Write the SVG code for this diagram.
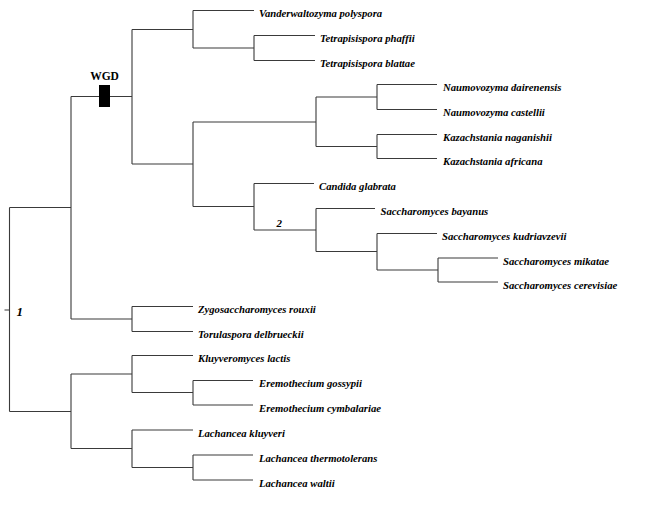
<svg xmlns="http://www.w3.org/2000/svg" width="659" height="509" viewBox="0 0 659 509">
<style>
.e{fill:none;stroke:#3a3a3a;stroke-width:1.1}
.t{font-family:"Liberation Serif","Times New Roman",serif;font-size:10.7px;font-weight:bold;font-style:italic;fill:#000}
.n{font-family:"Liberation Serif","Times New Roman",serif;font-weight:bold;font-style:italic;fill:#000}
</style>
<rect width="659" height="509" fill="#fff"/>
<g id="connectors" class="e">
<!-- root -->
<path d="M4.5 310H9.5M9.5 207.5V411.5"/>
<path d="M9.5 207.5H71M71 96.5V319"/>
<path d="M71 96.5H132M132 29.5V164"/>
<path d="M132 29.5H193M193 10.5V48"/>
<path d="M193 10.5H254"/>
<path d="M193 48H254M254 35.5V60.5M254 35.5H315M254 60.5H315"/>
<path d="M132 164H193M193 122V206.5"/>
<path d="M193 122H316M316 97V146.5"/>
<path d="M316 97H377M377 84.5V109.5M377 84.5H437M377 109.5H437"/>
<path d="M316 146.5H377M377 134.5V158.5M377 134.5H437M377 158.5H437"/>
<path d="M193 206.5H254M254 183.5V230M254 183.5H314"/>
<path d="M254 230H316M316 208.5V251.5M316 208.5H375"/>
<path d="M316 251.5H377M377 233.5V270M377 233.5H437"/>
<path d="M377 270H438M438 258V282M438 258H498M438 282H498"/>
<path d="M71 319H132M132 306.5V331.5M132 306.5H193M132 331.5H193"/>
<path d="M9.5 411.5H71M71 374V448.5"/>
<path d="M71 374H132M132 355.5V392.5M132 355.5H193"/>
<path d="M132 392.5H193M193 380.5V405M193 380.5H253M193 405H253"/>
<path d="M71 448.5H132M132 430V467.5M132 430H193"/>
<path d="M132 467.5H193M193 455V480M193 455H253M193 480H253"/>
</g>
<g id="wgd">
<rect x="99" y="85" width="11" height="22" fill="#000"/>
<text x="104.5" y="80" text-anchor="middle" font-family="Liberation Serif, Times New Roman, serif" font-weight="bold" font-size="11.5px">WGD</text>
</g>
<g id="label-1"><text class="n" x="16.5" y="315.5" font-size="13px">1</text></g>
<g id="label-2"><text class="n" x="276.5" y="227" font-size="11px">2</text></g>
<g id="leaf-vpol"><text class="t" x="259" y="17.3">Vanderwaltozyma polyspora</text></g>
<g id="leaf-tpha"><text class="t" x="320" y="42.3">Tetrapisispora phaffii</text></g>
<g id="leaf-tbla"><text class="t" x="320" y="67.3">Tetrapisispora blattae</text></g>
<g id="leaf-ndai"><text class="t" x="443" y="91.3">Naumovozyma dairenensis</text></g>
<g id="leaf-ncas"><text class="t" x="443" y="116.3">Naumovozyma castellii</text></g>
<g id="leaf-knag"><text class="t" x="443" y="141.3">Kazachstania naganishii</text></g>
<g id="leaf-kafr"><text class="t" x="443" y="165.3">Kazachstania africana</text></g>
<g id="leaf-cgla"><text class="t" x="319" y="190.3">Candida glabrata</text></g>
<g id="leaf-sbay"><text class="t" x="380.5" y="215.3">Saccharomyces bayanus</text></g>
<g id="leaf-skud"><text class="t" x="442" y="240.3">Saccharomyces kudriavzevii</text></g>
<g id="leaf-smik"><text class="t" x="503" y="264.8">Saccharomyces mikatae</text></g>
<g id="leaf-scer"><text class="t" x="503" y="288.8">Saccharomyces cerevisiae</text></g>
<g id="leaf-zrou"><text class="t" x="198" y="313.3">Zygosaccharomyces rouxii</text></g>
<g id="leaf-tdel"><text class="t" x="198" y="338.3">Torulaspora delbrueckii</text></g>
<g id="leaf-klac"><text class="t" x="198" y="362.3">Kluyveromyces lactis</text></g>
<g id="leaf-egos"><text class="t" x="259" y="387.3">Eremothecium gossypii</text></g>
<g id="leaf-ecym"><text class="t" x="259" y="411.8">Eremothecium cymbalariae</text></g>
<g id="leaf-lklu"><text class="t" x="198" y="436.8">Lachancea kluyveri</text></g>
<g id="leaf-lthe"><text class="t" x="259" y="461.8">Lachancea thermotolerans</text></g>
<g id="leaf-lwal"><text class="t" x="259" y="486.8">Lachancea waltii</text></g>
</svg>
